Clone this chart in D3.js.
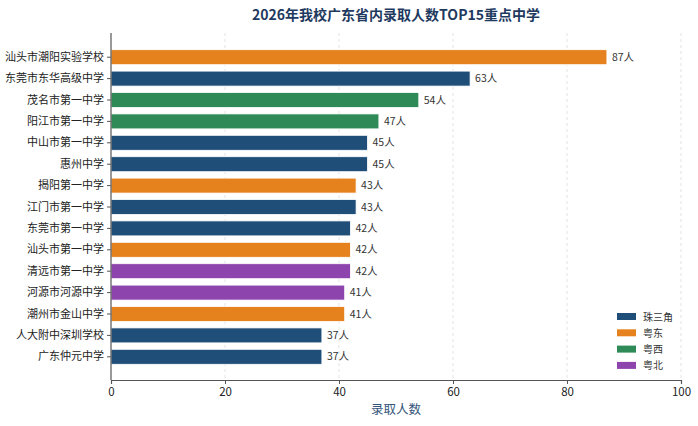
<!DOCTYPE html>
<html>
<head>
<meta charset="utf-8">
<script src="https://cdn.jsdelivr.net/npm/d3@7"></script>
<style>
  body { margin: 0; background: #fff; }
  text { font-family: "Noto Sans CJK SC", "Noto Sans", sans-serif; }
</style>
</head>
<body>
<svg id="chart" width="698" height="426"></svg>
<script>
// Schools, counts and region of each bar (top to bottom)
var schools = ["汕头市潮阳实验学校", "东莞市东华高级中学", "茂名市第一中学", "阳江市第一中学", "中山市第一中学",
               "惠州中学", "揭阳第一中学", "江门市第一中学", "东莞市第一中学", "汕头市第一中学",
               "清远市第一中学", "河源市河源中学", "潮州市金山中学", "人大附中深圳学校", "广东仲元中学"];
var counts  = [87, 63, 54, 47, 45, 45, 43, 43, 42, 42, 42, 41, 41, 37, 37];
var regions = ["粤东", "珠三角", "粤西", "粤西", "珠三角", "珠三角", "粤东", "珠三角", "珠三角", "粤东",
               "粤北", "粤北", "粤东", "珠三角", "珠三角"];

var region_names  = ["珠三角", "粤东", "粤西", "粤北"];
var region_colors = ["#1f4e79", "#e6821e", "#2e8b57", "#8e44ad"];
var x_ticks = [0, 20, 40, 60, 80, 100];

var margin = { top: 33, left: 111, right: 17, bottom: 46 };
var W = 698, H = 426;

var svg = d3.select("#chart");

var x = d3.scaleLinear().domain([0, 100]).range([margin.left, W - margin.right]);
var y = d3.scaleBand().domain(schools).range([margin.top + 13.5, H - margin.bottom - 12.5]).paddingInner(0.3).paddingOuter(0.15);
var color = d3.scaleOrdinal().domain(region_names).range(region_colors);

// Gridlines
svg.append("g")
   .selectAll("line")
   .data(x_ticks.slice(1))
   .enter().append("line")
   .attr("x1", function (d) { return x(d); })
   .attr("x2", function (d) { return x(d); })
   .attr("y1", margin.top)
   .attr("y2", H - margin.bottom)
   .attr("stroke", "#dcdcdc")
   .attr("stroke-width", 0.8)
   .attr("stroke-dasharray", "3,3");

// Bars
svg.append("g")
   .selectAll("rect")
   .data(schools)
   .enter().append("rect")
   .attr("x", x(0))
   .attr("y", function (d) { return y(d); })
   .attr("width", function (d, i) { return x(counts[i]) - x(0); })
   .attr("height", y.bandwidth())
   .attr("fill", function (d, i) { return color(regions[i]); })
   .attr("stroke", "#ffffff")
   .attr("stroke-width", 0.8);

// Value labels
svg.append("g")
   .selectAll("text")
   .data(schools)
   .enter().append("text")
   .attr("x", function (d, i) { return x(counts[i]) + 5; })
   .attr("y", function (d) { return y(d) + y.bandwidth() / 2; })
   .attr("dy", "0.35em")
   .attr("font-size", 10.5)
   .attr("fill", "#333")
   .text(function (d, i) { return counts[i] + "人"; });

// Axes
var xAxis = svg.append("g")
   .attr("transform", "translate(0," + (H - margin.bottom) + ")")
   .call(d3.axisBottom(x).tickValues(x_ticks).tickSizeOuter(0).tickSize(4).tickPadding(4));
xAxis.selectAll("text").attr("font-size", 11.5).attr("fill", "#222");
xAxis.select(".domain").attr("stroke", "#555").attr("stroke-width", 1.2);
xAxis.selectAll(".tick line").attr("stroke", "#555");

var yAxis = svg.append("g")
   .attr("transform", "translate(" + margin.left + ",0)")
   .call(d3.axisLeft(y).tickSizeOuter(0).tickSize(4).tickPadding(3));
yAxis.select(".domain").attr("stroke", "#555").attr("stroke-width", 1.2)
     .attr("d", "M0," + margin.top + "V" + (H - margin.bottom));
yAxis.selectAll("text").attr("font-size", 11).attr("fill", "#222");
yAxis.selectAll(".tick line").attr("stroke", "#555");

// Title and axis label
svg.append("text")
   .attr("x", 396)
   .attr("y", 20)
   .attr("text-anchor", "middle")
   .attr("font-size", 14)
   .attr("font-weight", "bold")
   .attr("fill", "#1f3a5f")
   .text("2026年我校广东省内录取人数TOP15重点中学");

svg.append("text")
   .attr("x", 396)
   .attr("y", 414)
   .attr("text-anchor", "middle")
   .attr("font-size", 12.5)
   .attr("fill", "#34557a")
   .text("录取人数");

// Legend
var legend = svg.append("g")
   .selectAll("g")
   .data(region_names)
   .enter().append("g")
   .attr("transform", function (d, i) { return "translate(617," + (313 + i * 16.3) + ")"; });

legend.append("rect")
      .attr("width", 19)
      .attr("height", 7)
      .attr("fill", function (d) { return color(d); });

legend.append("text")
      .attr("x", 26)
      .attr("y", 4)
      .attr("dy", "0.35em")
      .attr("font-size", 10)
      .attr("fill", "#333")
      .text(function (d) { return d; });
</script>
</body>
</html>
